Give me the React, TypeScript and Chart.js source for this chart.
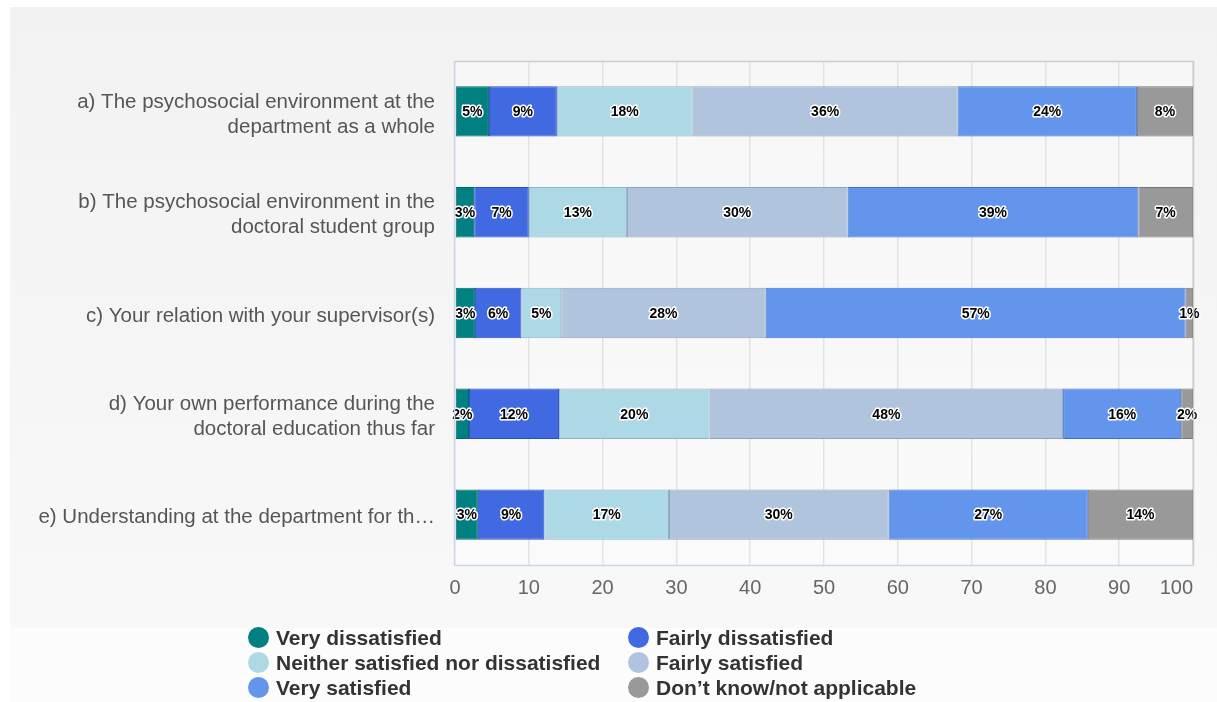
import React, { useEffect, useRef } from "react";
import { Chart, registerables } from "chart.js";

Chart.register(...registerables);

const categories: (string | string[])[] = [
  ["a) The psychosocial environment at the", "department as a whole"],
  ["b) The psychosocial environment in the", "doctoral student group"],
  "c) Your relation with your supervisor(s)",
  ["d) Your own performance during the", "doctoral education thus far"],
  "e) Understanding at the department for th\u2026",
];

const seriesNames = [
  "Very dissatisfied",
  "Fairly dissatisfied",
  "Neither satisfied nor dissatisfied",
  "Fairly satisfied",
  "Very satisfied",
  "Don\u2019t know/not applicable",
];

const veryDissatisfied = [4.6, 2.6, 2.7, 1.9, 3.1];
const fairlyDissatisfied = [9.2, 7.4, 6.3, 12.2, 9.0];
const neither = [18.4, 13.3, 5.4, 20.4, 16.9];
const fairlySatisfied = [35.9, 29.9, 27.7, 47.9, 29.75];
const verySatisfied = [24.3, 39.4, 56.9, 16.0, 27.0];
const dontKnow = [7.6, 7.4, 1.0, 1.6, 14.25];

const seriesValues = [veryDissatisfied, fairlyDissatisfied, neither, fairlySatisfied, verySatisfied, dontKnow];
const fillColors = ["#008080", "#4169E1", "#ADD8E6", "#B0C4DE", "#6495ED", "#999999"];
const borderColors = ["#006a6a", "#2a50c8", "#8db4c4", "#8ea2bf", "#3f70d0", "#777777"];

const xTicks = [0, 10, 20, 30, 40, 50, 60, 70, 80, 90, 100];

const FONT = "'Liberation Sans', Arial, sans-serif";

export default function App() {
  const ref = useRef<HTMLCanvasElement | null>(null);

  useEffect(() => {
    if (!ref.current) return;
    const bgPlugin = {
      id: "bgPanel",
      beforeDraw(chart: any) {
        const ctx = chart.ctx;
        ctx.save();
        ctx.fillStyle = "#ffffff";
        ctx.fillRect(0, 0, chart.width, chart.height);
        ctx.fillStyle = "#fcfcfc";
        ctx.fillRect(10, 7, chart.width - 10, chart.height - 7);
        const g = ctx.createLinearGradient(0, 7, 0, 628);
        g.addColorStop(0, "#f2f2f2");
        g.addColorStop(1, "#f8f8f8");
        ctx.fillStyle = g;
        ctx.fillRect(10, 7, chart.width - 10, 621);
        const a = chart.chartArea;
        ctx.fillStyle = "rgba(255,255,255,0.35)";
        ctx.fillRect(a.left, a.top, a.right - a.left, a.bottom - a.top);
        ctx.restore();
      },
      afterDraw(chart: any) {
        const ctx = chart.ctx;
        const a = chart.chartArea;
        ctx.save();
        ctx.strokeStyle = "#cccccc";
        ctx.lineWidth = 1.5;
        ctx.beginPath();
        ctx.moveTo(a.left, a.top + 0.5);
        ctx.lineTo(a.right + 0.5, a.top + 0.5);
        ctx.lineTo(a.right + 0.5, a.bottom);
        ctx.stroke();
        ctx.strokeStyle = "#cbd6ea";
        ctx.beginPath();
        ctx.moveTo(a.left - 0.5, a.top);
        ctx.lineTo(a.left - 0.5, a.bottom + 0.5);
        ctx.lineTo(a.right + 0.5, a.bottom + 0.5);
        ctx.stroke();
        ctx.restore();
      },
    };
    const labelPlugin = {
      id: "segLabels",
      afterDatasetsDraw(chart: any) {
        const ctx = chart.ctx;
        ctx.save();
        ctx.font = `bold 14px ${FONT}`;
        ctx.textAlign = "center";
        ctx.textBaseline = "middle";
        ctx.lineJoin = "round";
        chart.data.datasets.forEach((ds: any, di: number) => {
          const meta = chart.getDatasetMeta(di);
          meta.data.forEach((el: any, i: number) => {
            const v = ds.data[i];
            const txt = Math.round(v) + "%";
            const cx = (el.x + el.base) / 2;
            ctx.lineWidth = 3;
            ctx.strokeStyle = "#ffffff";
            ctx.strokeText(txt, cx, el.y + 1);
            ctx.fillStyle = "#000000";
            ctx.fillText(txt, cx, el.y + 1);
          });
        });
        ctx.restore();
      },
    };
    const chart = new Chart(ref.current, {
      type: "bar",
      data: {
        labels: categories,
        datasets: seriesValues.map((vals, i) => ({
          label: seriesNames[i],
          data: vals,
          backgroundColor: fillColors[i],
          borderColor: borderColors[i],
          borderWidth: 1,
          borderSkipped: false,
          barPercentage: 0.5,
          categoryPercentage: 1,
        })),
      },
      options: {
        indexAxis: "y",
        animation: false,
        responsive: false,
        maintainAspectRatio: false,
        layout: { padding: { left: 0, top: 61, right: 24, bottom: 97 } },
        plugins: { legend: { display: false }, tooltip: { enabled: false } },
        scales: {
          x: {
            stacked: true,
            min: 0,
            max: 100,
            afterBuildTicks: (scale: any) => {
              scale.ticks = xTicks.map((v) => ({ value: v }));
            },
            afterFit: (scale: any) => {
              scale.height = 40;
              scale.paddingRight = 0;
              scale.paddingLeft = 0;
            },
            grid: { color: "#e3e3e3", lineWidth: 1.5, drawTicks: false },
            border: { display: false },
            ticks: {
              color: "#666666",
              font: { family: FONT, size: 20 },
              padding: 11,
              maxRotation: 0,
              callback: (v: any) => (v === 100 ? "100      " : String(v)),
            },
          },
          y: {
            stacked: true,
            afterFit: (scale: any) => {
              scale.width = 455;
              scale.paddingTop = 0;
              scale.paddingBottom = 0;
            },
            grid: { display: false, drawTicks: false },
            border: { display: false },
            ticks: {
              color: "#555555",
              font: { family: FONT, size: 20.5, lineHeight: 1.22 },
              padding: 20,
              labelOffset: 3,
            },
          },
        },
      },
      plugins: [bgPlugin, labelPlugin],
    });
    return () => chart.destroy();
  }, []);

  const legendItem = (i: number) => (
    <div key={i} style={{ display: "flex", alignItems: "center", height: 25 }}>
      <span
        style={{
          display: "inline-block",
          width: 21,
          height: 21,
          borderRadius: "50%",
          background: fillColors[i],
          marginRight: 7,
          flex: "none",
        }}
      />
      <span style={{ font: `bold 21px ${FONT}`, color: "#333333", whiteSpace: "nowrap" }}>{seriesNames[i]}</span>
    </div>
  );

  return (
    <div style={{ position: "fixed", left: 0, top: 0, width: 1217, height: 702, overflow: "hidden" }}>
      <canvas ref={ref} width={1217} height={702} style={{ display: "block", width: 1217, height: 702 }} />
      <div style={{ position: "absolute", left: 248, top: 625 }}>
        {[0, 2, 4].map((i) => legendItem(i))}
      </div>
      <div style={{ position: "absolute", left: 628, top: 625 }}>
        {[1, 3, 5].map((i) => legendItem(i))}
      </div>
    </div>
  );
}
